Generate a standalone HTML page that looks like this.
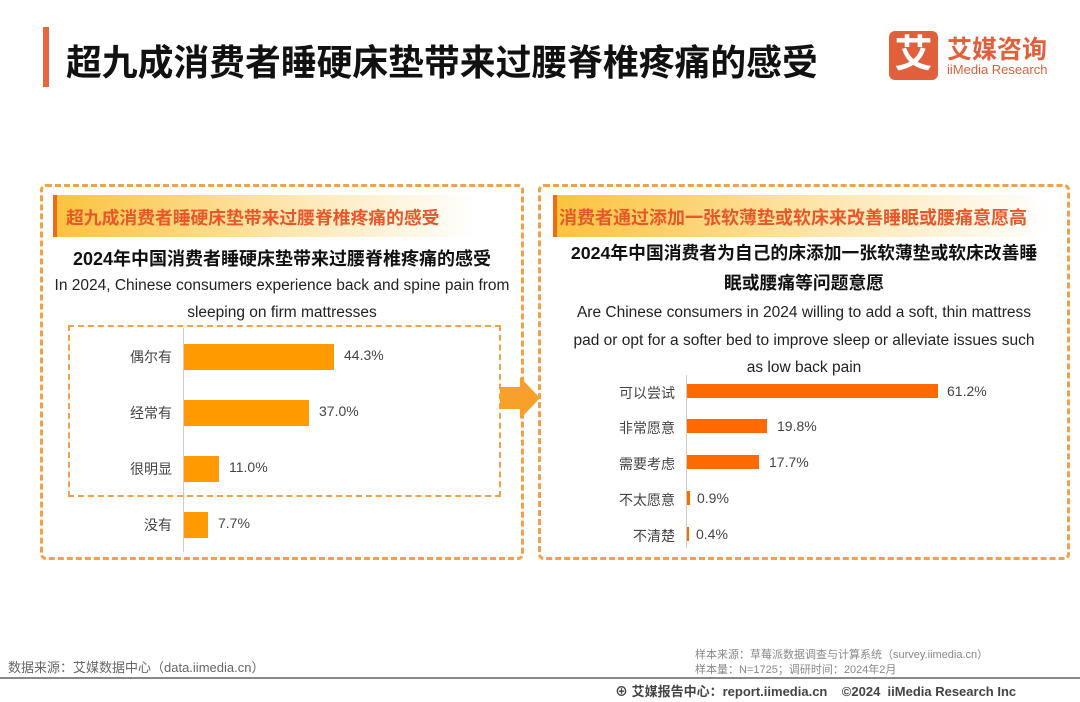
<!DOCTYPE html><html><head><meta charset="utf-8"><style>
body{margin:0;width:1080px;height:702px;background:#fff;position:relative;overflow:hidden;font-family:"Liberation Sans","Noto Sans CJK SC",sans-serif}
.a{position:absolute}
.c{text-align:center;white-space:nowrap}
.lbl{position:absolute;font-size:14px;color:#444;text-align:right;width:100px}
.val{position:absolute;font-size:14px;color:#444}
</style></head><body>
<div class="a" style="left:43px;top:27px;width:6px;height:60px;background:#e8663a"></div>
<div class="a" style="left:66px;top:34px;font-size:35.8px;font-weight:bold;color:#111">超九成消费者睡硬床垫带来过腰脊椎疼痛的感受</div>
<div class="a" style="left:889px;top:31px;width:49px;height:49px;background:#e0603c;border-radius:6px;color:#fff;font-size:38px;font-weight:bold;line-height:49px;text-align:center">艾</div>
<div class="a" style="left:947px;top:30px;font-size:25px;font-weight:bold;color:#e0603c">艾媒咨询</div>
<div class="a" style="left:947px;top:62px;font-size:13px;color:#e0603c">iiMedia Research</div>

<div class="a" style="left:40px;top:184px;width:478px;height:370px;border:3px dashed #f3a04a;border-radius:6px"></div>
<div class="a" style="left:53px;top:195px;width:423px;height:42px;background:linear-gradient(90deg,#fcc23c,#fde9b8 60%,#fff)"></div>
<div class="a" style="left:53px;top:195px;width:4px;height:42px;background:#f06a1a"></div>
<div class="a" style="left:66px;top:204px;font-size:17.8px;font-weight:bold;color:#e8572a">超九成消费者睡硬床垫带来过腰脊椎疼痛的感受</div>
<div class="a c" style="left:40px;top:245px;width:484px;font-size:18px;font-weight:bold;color:#111">2024年中国消费者睡硬床垫带来过腰脊椎疼痛的感受</div>
<div class="a c" style="left:40px;top:272px;width:484px;font-size:15.5px;color:#222;line-height:27px">In 2024, Chinese consumers experience back and spine pain from<br>sleeping on firm mattresses</div>
<div class="a" style="left:68px;top:325px;width:429px;height:168px;border:2px dashed #f3a04a"></div>
<div class="a" style="left:183px;top:328px;width:1px;height:224px;background:#ccc"></div>
<div class="lbl" style="left:72px;top:347px">偶尔有</div><div class="a" style="left:184px;top:344px;width:150px;height:26px;background:#ff9a00"></div><div class="val" style="left:344px;top:347px">44.3%</div>
<div class="lbl" style="left:72px;top:403px">经常有</div><div class="a" style="left:184px;top:400px;width:125px;height:26px;background:#ff9a00"></div><div class="val" style="left:319px;top:403px">37.0%</div>
<div class="lbl" style="left:72px;top:459px">很明显</div><div class="a" style="left:184px;top:456px;width:35px;height:26px;background:#ff9a00"></div><div class="val" style="left:229px;top:459px">11.0%</div>
<div class="lbl" style="left:72px;top:515px">没有</div><div class="a" style="left:184px;top:512px;width:24px;height:26px;background:#ff9a00"></div><div class="val" style="left:218px;top:515px">7.7%</div>

<div class="a" style="left:500px;top:387px;width:20px;height:22px;background:#f7a12a"></div>
<div class="a" style="left:520px;top:377px;width:0;height:0;border-top:21px solid transparent;border-bottom:21px solid transparent;border-left:20px solid #f7a12a"></div>

<div class="a" style="left:538px;top:184px;width:526px;height:370px;border:3px dashed #f3a04a;border-radius:6px"></div>
<div class="a" style="left:553px;top:195px;width:497px;height:42px;background:linear-gradient(90deg,#fcc23c,#fde9b8 60%,#fff)"></div>
<div class="a" style="left:553px;top:195px;width:4px;height:42px;background:#f06a1a"></div>
<div class="a" style="left:559px;top:204px;font-size:18px;font-weight:bold;color:#e8572a">消费者通过添加一张软薄垫或软床来改善睡眠或腰痛意愿高</div>
<div class="a c" style="left:538px;top:238px;width:532px;font-size:17.8px;font-weight:bold;color:#111;line-height:30px">2024年中国消费者为自己的床添加一张软薄垫或软床改善睡<br>眠或腰痛等问题意愿</div>
<div class="a c" style="left:538px;top:299px;width:532px;font-size:15.5px;color:#222;line-height:27.5px">Are Chinese consumers in 2024 willing to add a soft, thin mattress<br>pad or opt for a softer bed to improve sleep or alleviate issues such<br>as low back pain</div>
<div class="a" style="left:686px;top:375px;width:1px;height:173px;background:#ccc"></div>
<div class="lbl" style="left:575px;top:383px">可以尝试</div><div class="a" style="left:687px;top:384px;width:251px;height:14px;background:#ff6a00"></div><div class="val" style="left:947px;top:383px">61.2%</div>
<div class="lbl" style="left:575px;top:418px">非常愿意</div><div class="a" style="left:687px;top:419px;width:80px;height:14px;background:#ff6a00"></div><div class="val" style="left:777px;top:418px">19.8%</div>
<div class="lbl" style="left:575px;top:454px">需要考虑</div><div class="a" style="left:687px;top:455px;width:72px;height:14px;background:#ff6a00"></div><div class="val" style="left:769px;top:454px">17.7%</div>
<div class="lbl" style="left:575px;top:490px">不太愿意</div><div class="a" style="left:687px;top:491px;width:3px;height:14px;background:#ff6a00"></div><div class="val" style="left:697px;top:490px">0.9%</div>
<div class="lbl" style="left:575px;top:526px">不清楚</div><div class="a" style="left:687px;top:527px;width:1.5px;height:14px;background:#ff6a00"></div><div class="val" style="left:696px;top:526px">0.4%</div>

<div class="a" style="left:8px;top:657px;font-size:13px;color:#666">数据来源：艾媒数据中心（data.iimedia.cn）</div>
<div class="a" style="left:695px;top:648px;font-size:11px;color:#888;line-height:15px">样本来源：草莓派数据调查与计算系统（survey.iimedia.cn）<br>样本量：N=1725；调研时间：2024年2月</div>
<div class="a" style="left:0;top:677px;width:1080px;height:2px;background:#888"></div>
<div class="a" style="left:615px;top:681px;font-size:13px;font-weight:bold;color:#444">⊕ 艾媒报告中心：report.iimedia.cn&nbsp;&nbsp;&nbsp;&nbsp;©2024&nbsp; iiMedia Research Inc</div>
</body></html>
